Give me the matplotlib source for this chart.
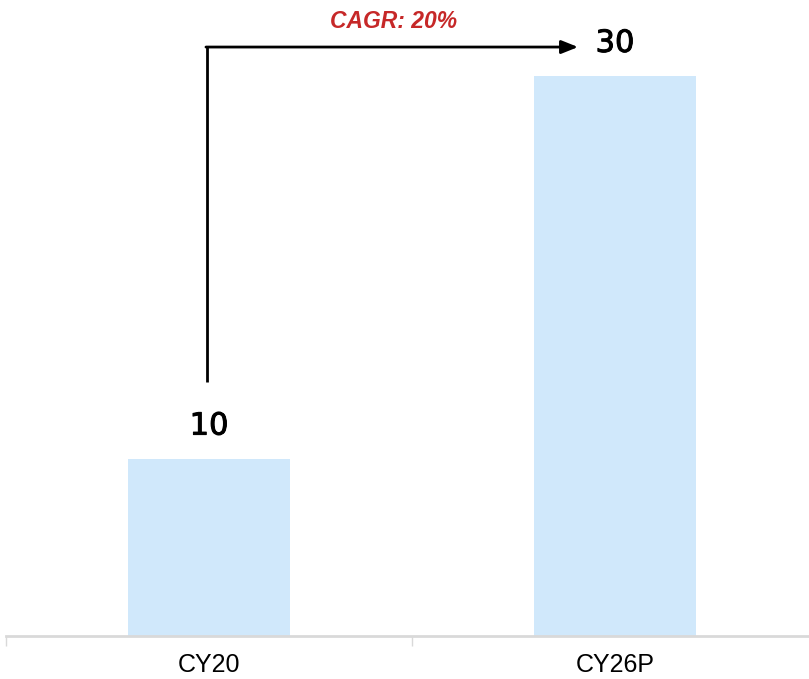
import matplotlib
matplotlib.use("Agg")
import matplotlib.pyplot as plt
import matplotlib.patheffects as pe

categories = ["CY20", "CY26P"]
values = [9.5, 30]
value_labels = ["10", "30"]
cagr_text = "CAGR: 20%"

W, H = 809, 679
fig = plt.figure(figsize=(W / 100, H / 100), dpi=100)
left_px, right_px = 6, 818
bottom_px = 636
ax = fig.add_axes([left_px / W, (H - bottom_px) / H, (right_px - left_px) / W, bottom_px / H])

x = range(len(categories))
ax.bar(x, values, width=0.4, color="#D0E8FB")
ax.set_xlim(-0.5, 1.5)
ax.set_ylim(0, 34.07)

for xi, v, lab in zip(x, values, value_labels):
    ax.annotate(lab, xy=(xi, v), xytext=(0, 13), textcoords="offset points",
                ha="center", va="bottom", fontsize=22, fontweight="normal",
                family="DejaVu Sans", color="black",
                path_effects=[pe.withStroke(linewidth=0.7, foreground="black")])

# CAGR arrow
y_arrow = 31.55
x_start = -0.005
ax.plot([x_start, x_start], [13.6, y_arrow], color="black", lw=2, solid_capstyle="butt")
ax.annotate("", xy=(0.909, y_arrow), xytext=(x_start - 0.0025, y_arrow),
            arrowprops=dict(arrowstyle="-|>,head_length=1.0,head_width=0.4", color="black", lw=2,
                            shrinkA=0, shrinkB=0))
ax.text(0.455, 32.9, cagr_text, ha="center", va="center", fontsize=16.5, fontweight="bold",
        fontstyle="italic", color="#C62828", family="Liberation Sans")

for s in ["top", "right", "left"]:
    ax.spines[s].set_visible(False)
ax.spines["bottom"].set_color("#D9D9D9")
ax.spines["bottom"].set_linewidth(2)
ax.set_yticks([])
ax.set_xticks(list(x))
ax.set_xticklabels(categories, fontsize=18, family="Liberation Sans")
ax.tick_params(axis="x", which="major", length=0, pad=12)
ax.set_xticks([-0.5, 0.5, 1.5], minor=True)
ax.tick_params(axis="x", which="minor", length=7, color="#D9D9D9", width=1)

fig.savefig("out.png", dpi=100)
